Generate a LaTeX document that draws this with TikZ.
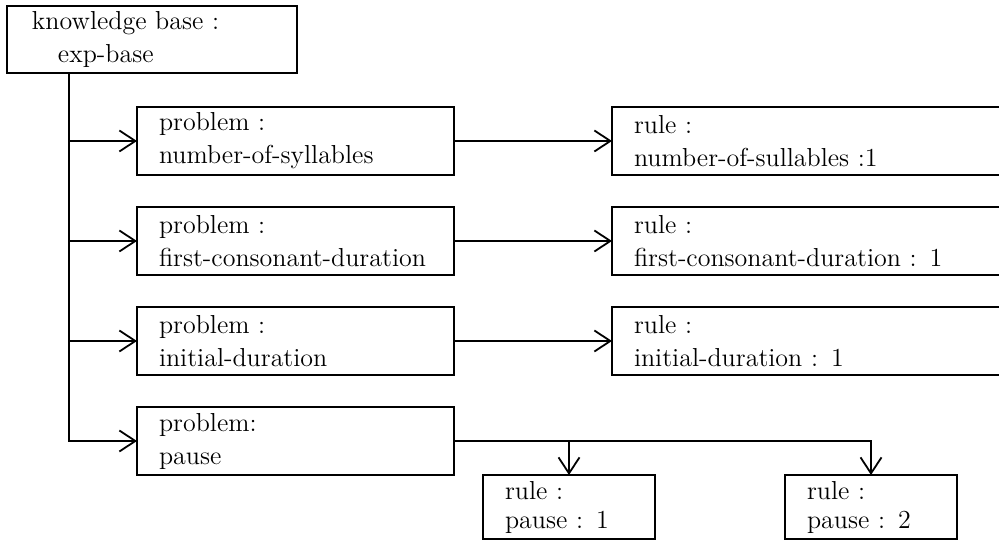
\documentclass[tikz,border=0pt]{standalone}
\usepackage{tikz}
\usetikzlibrary{arrows.meta, positioning, calc}

\newcommand{\boxfont}{\fontsize{13}{16.5}\selectfont}
\newcommand{\tightfont}{\fontsize{13}{14.5}\selectfont}

\begin{document}
\begin{tikzpicture}[
    x=0.5pt, y=-0.5pt,
    % knowledge base box (top left)
    kbbox/.style={rectangle, draw, line width=0.9pt, anchor=north west,
                  text width=120pt, minimum height=33.5pt, inner xsep=12.5pt,
                  inner ysep=0pt, outer sep=0pt, align=left, font=\boxfont},
    % problem boxes
    probbox/.style={rectangle, draw, line width=0.9pt, anchor=north west,
                    text width=136.5pt, minimum height=34pt, inner xsep=11pt,
                    inner ysep=0pt, outer sep=0pt, align=left, font=\boxfont},
    % rule boxes
    rulebox/.style={rectangle, draw, line width=0.9pt,
                    text width=198pt, minimum height=34pt, inner xsep=11pt,
                    inner ysep=0pt, outer sep=0pt, align=left, font=\boxfont},
    % small rule boxes under pause
    pausebox/.style={rulebox, text width=64pt, minimum height=32pt,
                     font=\tightfont},
    arrow/.style={-{Straight Barb[length=8pt, width=10.5pt]}, line width=0.9pt},
    node distance=16pt
]

\useasboundingbox (0,0) rectangle (999,544);

%-------- KNOWLEDGE BASE --------
\node[kbbox] (kb) at (7,6) {knowledge base :\\\hspace*{13pt}exp-base};
\coordinate (trunk) at ($(kb.south west)+(31pt,0)$);

%-------- PROBLEMS --------
\node[probbox] (p1) at (137,107) {problem :\\number-of-syllables};
\node[probbox, below=of p1] (p2) {problem :\\first-consonant-duration};
\node[probbox, below=of p2] (p3) {problem :\\initial-duration};
\node[probbox, below=of p3] (p4) {problem:\\pause};

%-------- RULES --------
\node[rulebox, right=79pt of p1] (r1) {rule :\\number-of-sullables :1};
\node[rulebox, right=79pt of p2] (r2) {rule :\\first-consonant-duration : 1};
\node[rulebox, right=79pt of p3] (r3) {rule :\\initial-duration : 1};
\node[pausebox, below right=0pt and 14.5pt of p4.south east] (rp1)
    {rule :\\pause : 1};
\node[pausebox, right=65pt of rp1] (rp2) {rule :\\pause : 2};

%-------- ARROWS --------
\draw[arrow] (trunk) |- (p1);
\draw[arrow] (trunk) |- (p2);
\draw[arrow] (trunk) |- (p3);
\draw[arrow] (trunk) |- (p4);

\draw[arrow] (p1) -- (r1);
\draw[arrow] (p2) -- (r2);
\draw[arrow] (p3) -- (r3);
\draw[arrow] (p4) -| (rp1);
\draw[arrow] (p4) -| (rp2);

\end{tikzpicture}
\end{document}
